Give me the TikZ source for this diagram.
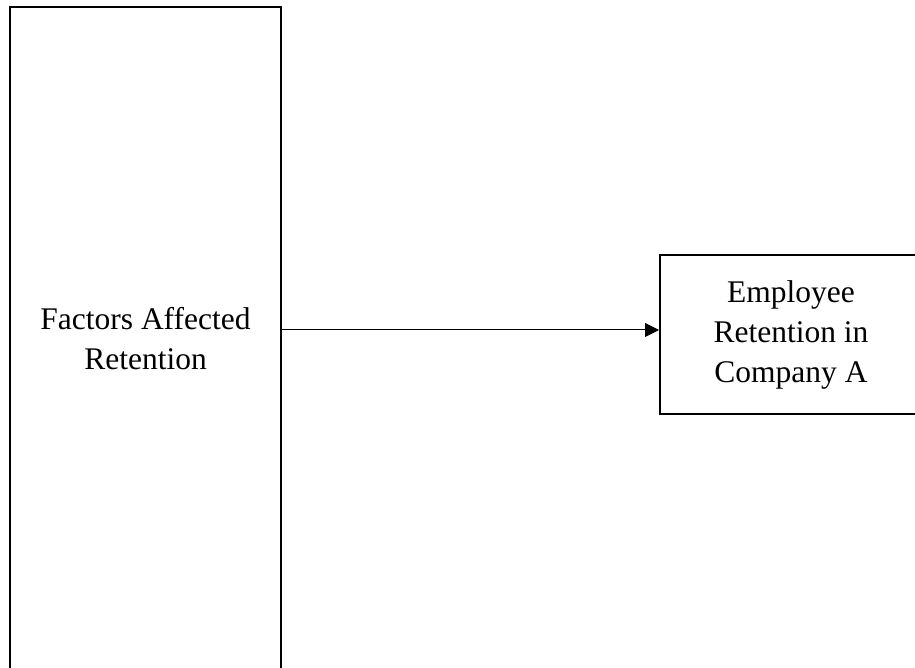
\documentclass[tikz,border=0pt]{standalone}
\usepackage{fontspec}
\setmainfont{Liberation Serif}
\usetikzlibrary{arrows.meta}
\begin{document}
\begin{tikzpicture}[x=1pt,y=1pt]
    \tikzstyle{block}=[draw=black,line width=2pt,rectangle,align=center,font=\fontsize{31.5}{40}\selectfont]
    \tikzstyle{link}=[line width=1pt,-{Triangle[length=14pt,width=14pt]}]

    \useasboundingbox (0,0) rectangle (915,668);
    \clip (0,0) rectangle (915,668);

    %\node[block] at (145.5,334) (factors) {Factors Affected\\Retention};
    \node[block,minimum width=271,minimum height=664] at (145.5,329) (factors) {Factors Affected\\Retention};
    \node[block,minimum width=262,minimum height=159] at (791,333.5) (retention) {Employee\\Retention in\\Company A};

    \draw[link] ([yshift=4.5pt]factors.east |- retention.west) -- ([yshift=4.5pt]retention.west);
\end{tikzpicture}
\end{document}
